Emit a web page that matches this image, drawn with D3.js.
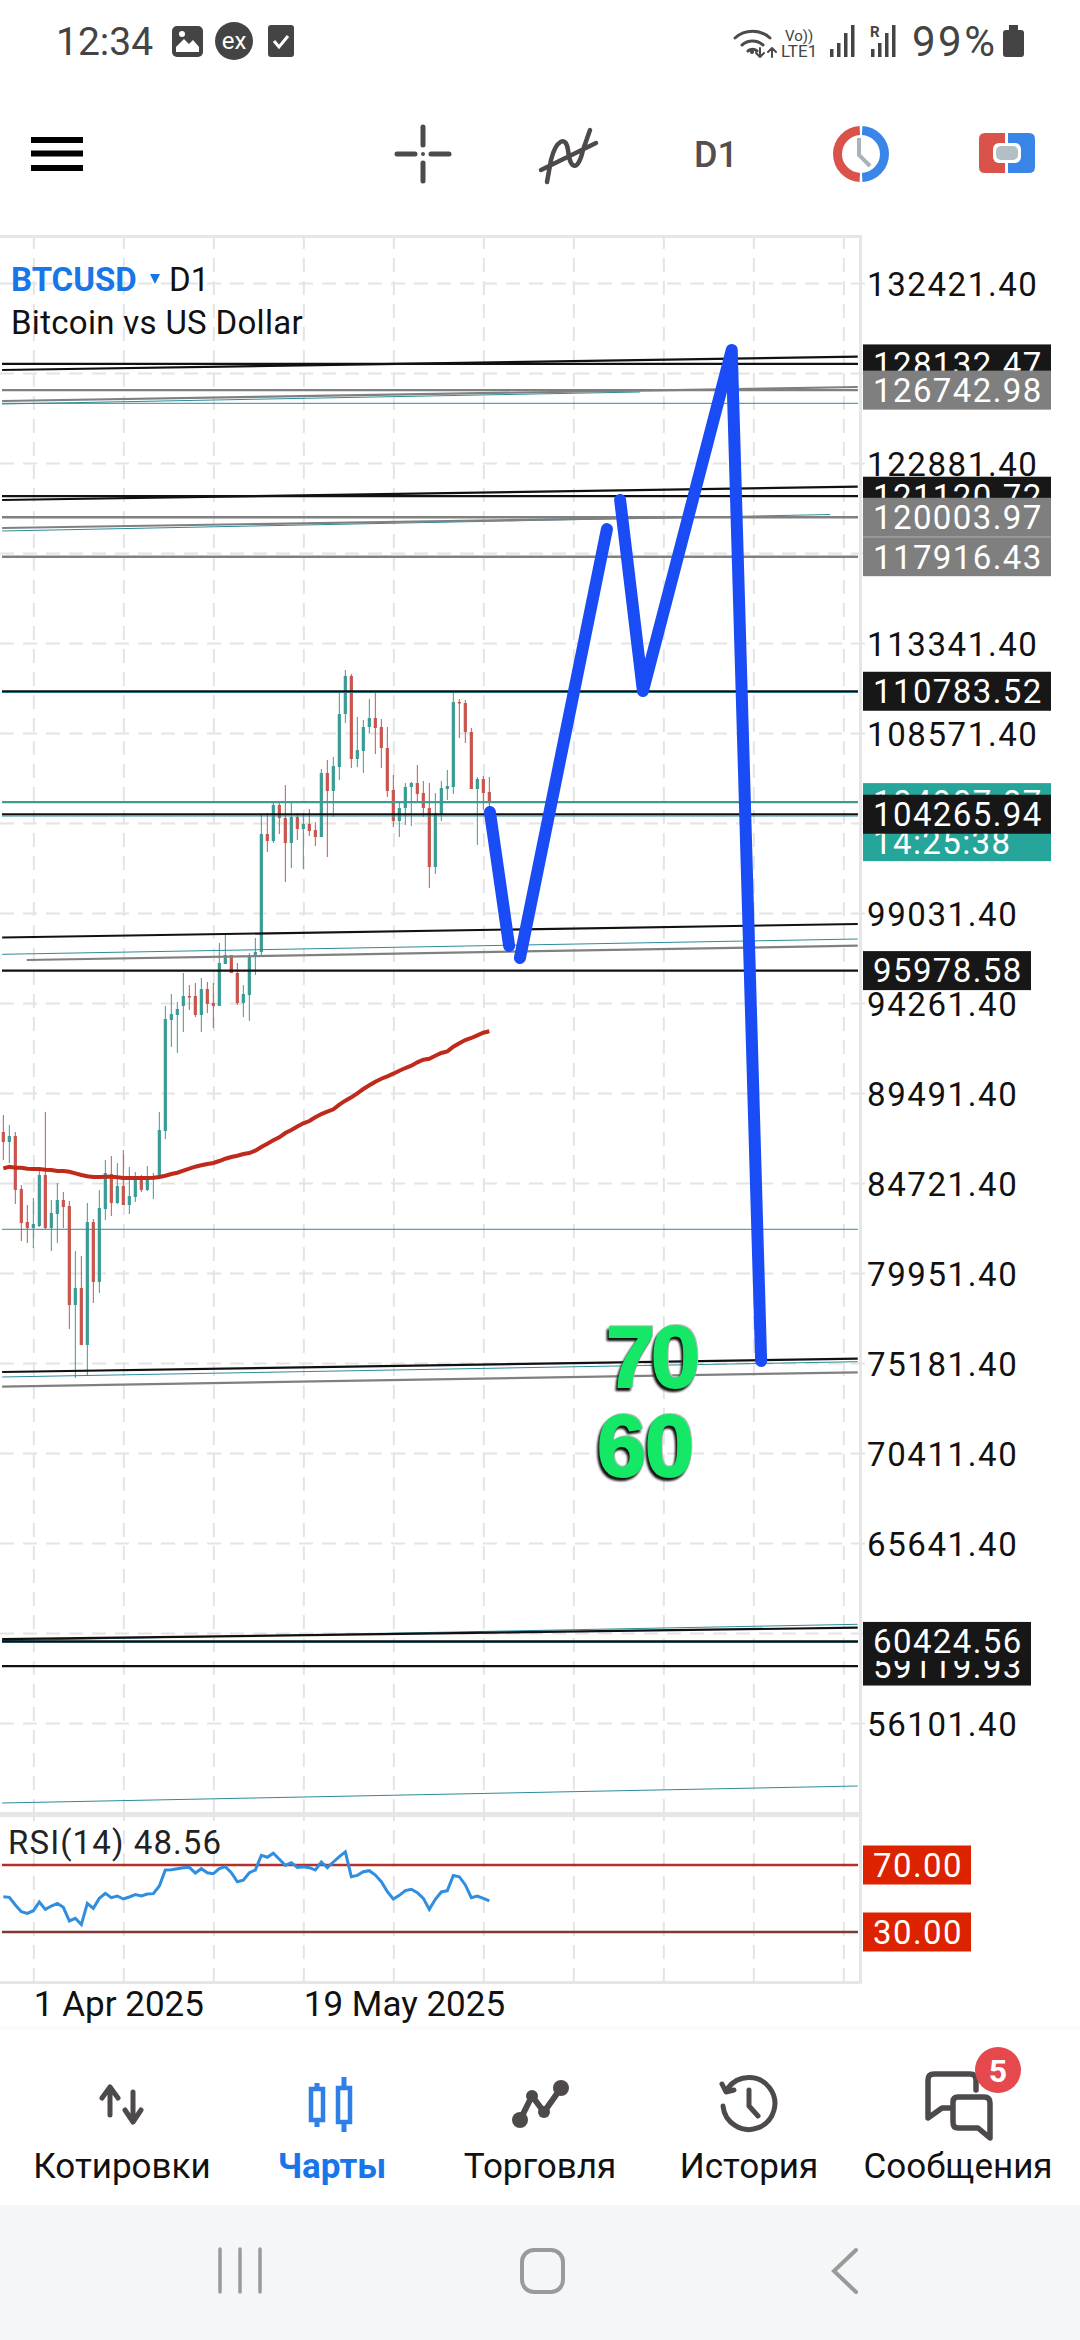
<!DOCTYPE html>
<html>
<head>
<meta charset="utf-8">
<script src="https://cdn.jsdelivr.net/npm/d3@7/dist/d3.min.js"></script>
<style>
html, body { margin: 0; padding: 0; background: #fff; }
svg { display: block; }
text { font-family: Roboto, sans-serif; }
.grid line { stroke: #e4e4e4; stroke-width: 2; stroke-dasharray: 14 9; }
.grid .domain { display: none; }
.price-axis .domain, .time-axis .domain { display: none; }
.price-axis line, .time-axis line { display: none; }
.price-axis text { font-family: Roboto, sans-serif; font-size: 33px; letter-spacing: 1.6px; fill: #111; }
.time-axis text { font-family: Roboto, sans-serif; font-size: 35px; fill: #111; text-anchor: start; }
.tab-label { font-size: 35px; fill: #111; text-anchor: middle; }
.icon-line { fill: none; stroke: #4f4a4a; stroke-linecap: round; stroke-linejoin: round; }
</style>
</head>
<body>
<div id="chart-wrapper"></div>
<script>
// bars, oldest first (daily BTCUSD)
var highs = [88325,87795,87424,84615,83555,83926,85410,88484,83820,84721,84244,
    83767,81117,80852,83661,82813,84350,85940,86152,85781,86470,
    85569,85304,85145,85622,85251,88484,94102,94738,94314,95851,
    95215,95321,95586,95374,95321,97441,97865,96805,96381,95215,
    96911,97706,104225,104331,104861,104861,105815,104861,104331,104331,
    104543,103854,106663,107140,107299,110744,111910,111698,109419,109260,
    110373,110691,109313,108889,106345,104861,105921,105974,106875,106027,
    105921,105391,106027,106610,110744,110373,110320,108836,106239,106292,106239];
var lows = [85940,85781,83608,81647,81541,81276,82389,82283,81117,81541,82336,
    76983,74386,76135,74492,78361,78891,82760,82972,83608,83555,
    83078,83714,84244,84297,83873,85039,87053,91929,91611,92724,
    93890,93519,92724,93731,92936,94102,96328,95851,94155,93519,
    93307,95745,96805,102264,102741,103218,100674,101416,102900,101363,
    103112,102582,103059,101999,104119,106080,109101,106716,106769,106451,
    108571,107458,106716,105179,103589,103059,103695,103642,104861,104119,
    100356,101098,103907,105020,105338,108306,108041,105603,102635,104490,104649];
var opens = [87424,86894,87212,84403,82654,82336,82442,85145,82336,83078,83820,
    83502,78255,79156,76135,82654,79474,83343,85198,83661,84562,
    83555,83979,84933,84350,84933,85039,87477,93360,93625,94102,
    94632,94632,93625,95003,94261,94102,96328,96805,95851,94261,
    94685,96805,96964,103218,102847,104755,104066,102741,104119,103483,
    103748,103430,103059,106451,105497,106769,109578,111592,107193,107617,
    108889,109366,108889,107776,105550,103907,104596,105709,105921,105391,
    104596,101469,104278,105603,105709,110214,110161,108624,105603,106133,105444];
var closes = [86894,87212,84350,82601,82336,82548,85145,82336,83131,83820,83449,
    78255,79156,76135,82654,79474,83396,85251,83661,84562,83555,
    84032,84933,84350,84933,85039,87530,93413,93678,93943,94632,
    94579,93625,95003,94208,94102,96381,96805,95851,94261,94738,
    96752,96964,103218,102847,104755,104066,102741,104119,103483,103748,
    103377,103059,106451,105497,106822,109578,111592,107193,107670,108889,
    109366,108836,107776,105497,103907,104596,105709,105921,105338,104596,
    101469,104331,105656,105762,110214,110161,108624,105603,106133,105391,104914];
var ma_values = [85500,85585,85532,85532,85479,85463,85463,85426,85410,85357,85357,
    85320,85235,85145,85076,85039,85039,85055,85055,85023,84986,
    84986,84986,84986,84986,85002,85039,85108,85198,85267,85373,
    85479,85585,85659,85728,85781,85887,86009,86099,86168,86258,
    86311,86433,86629,86804,86984,87143,87371,87530,87715,87885,
    88007,88203,88378,88500,88627,88871,89083,89263,89475,89703,
    89899,90090,90249,90376,90514,90673,90816,90938,91118,91256,
    91309,91468,91611,91701,91945,92125,92300,92406,92549,92687,92761];
var rsi_values = [51.1,50.7,46.1,42.1,41.1,42.7,47.9,43.5,45.5,47.1,44.7,
    36.6,38.2,34.4,47.1,44.1,50.1,53.1,50.5,51.5,49.7,
    50.9,52.3,51.5,52.7,52.9,57.5,67.0,67.2,67.8,68.4,
    68.6,65.2,67.8,65.4,64.8,67.8,69.0,65.4,60.0,61.0,
    65.4,67.0,75.8,74.6,77.0,73.4,69.8,71.4,68.6,69.0,
    68.4,67.0,71.8,68.4,71.8,75.0,77.8,63.0,63.8,66.0,
    66.6,64.0,60.0,54.1,49.7,51.9,54.7,55.5,53.5,50.1,
    43.5,49.5,53.9,54.7,63.8,63.0,58.1,50.5,51.5,50.1,48.56];

var price_ticks = [132421.40,127651.40,122881.40,118111.40,113341.40,108571.40,103801.40,99031.40,
    94261.40,89491.40,84721.40,79951.40,75181.40,70411.40,65641.40,60871.40,56101.40];
var grid_bars = [5,20,35,50,65,80,95,110,125,140];
var time_tick_bars = [5,50];
var time_tick_labels = ['1 Apr 2025','19 May 2025'];
var rsi_levels = [70,30];

var black_levels = [128132.47,121120.72,110783.52,104265.94,95978.58,60424.56,59119.93];
var grey_levels = [126742.98,120003.97,117916.43];
var thin_levels = [126045,110718,104172,82268,60368];
var bid_price = 104907.87;
var countdown = '14:25:38';

// trend lines: [bar, price, bar, price]
var black_trends = [[-0.2,127810,142.4,128515],[-0.2,120920,142.4,121625],[-0.2,97732,142.4,98448],
    [-0.2,74704,142.4,75409],[-0.2,60542,142.4,61152]];
var grey_trends = [[-0.2,126167,142.4,126909],[-0.2,119436,116.1,120019],[3.9,96540,142.4,97298],
    [-0.2,73925,142.4,74688]];
var thin_trends = [[-0.2,126008,106.1,126644],[-0.2,119277,137.8,120151],[-0.2,96842,142.4,97653],
    [-0.2,74439,142.4,75250],[-0.2,60468,142.4,61332],[-0.2,51861,142.4,52762]];

// hand drawn forecast strokes: bar and price of each point
var stroke_bars = [[81.1,84.3],[86.1,100.6],[102.8,106.6,121.4,126.3]];
var stroke_prices = [[104384,97282],[96646,119383],[120920,110797,128870,75287]];

var axis_labels = [128132.47,126742.98,121120.72,120003.97,117916.43,110783.52,95978.58,59119.93,60424.56];
var grey_label_set = [126742.98,120003.97,117916.43];

var tab_names = ['Котировки','Чарты','Торговля','История','Сообщения'];
var tab_centers = [122,332,540,749,958];

var total_width = 1080;
var total_height = 2340;
var pane_right = 861;
var candle_green = '#3a9c94';
var candle_red = '#c8554e';
var bars = d3.range(highs.length);

var svg = d3.select('#chart-wrapper').append('svg')
    .attr('width', total_width)
    .attr('height', total_height);

svg.append('rect').attr('width', total_width).attr('height', total_height).attr('fill', '#fff');

var scale_x = d3.scaleLinear().domain([0, 143]).range([3.33, 861.33]);
var scale_y = d3.scaleLinear().domain([132421.4, 56101.4]).range([283, 1723]);
var scale_rsi = d3.scaleLinear().domain([70, 30]).range([1865, 1932]);

// gridlines
svg.append('g').attr('class', 'grid')
    .call(d3.axisRight(scale_y).tickValues(price_ticks).tickSize(872).tickFormat(''));
svg.append('g').attr('class', 'grid')
    .attr('transform', 'translate(0,1813)')
    .call(d3.axisTop(scale_x).tickValues(grid_bars).tickSize(1576).tickFormat(''));
svg.append('g').attr('class', 'grid')
    .attr('transform', 'translate(0,1982)')
    .call(d3.axisTop(scale_x).tickValues(grid_bars).tickSize(166).tickFormat(''));

// price axis text goes under the level boxes
svg.append('g').attr('class', 'price-axis')
    .attr('transform', 'translate(867,0)')
    .call(d3.axisRight(scale_y).tickValues(price_ticks).tickSize(0).tickPadding(0)
        .tickFormat(function(d) { return d.toFixed(2); }))
  .selectAll('text')
    .attr('dy', '.38em');

// pane frames
var frame = svg.append('g').attr('fill', '#e6e6e6');
frame.append('rect').attr('x', 0).attr('y', 235).attr('width', pane_right).attr('height', 3);
frame.append('rect').attr('x', 0).attr('y', 1812).attr('width', pane_right).attr('height', 5);
frame.append('rect').attr('x', 0).attr('y', 1981).attr('width', pane_right).attr('height', 3);
frame.append('rect').attr('x', 859).attr('y', 235).attr('width', 3).attr('height', 1749);

var draw_area = svg.append('g');

var draw_level = function(price, color, width) {
    draw_area.append('line')
        .attr('x1', 2).attr('x2', 858)
        .attr('y1', scale_y(price)).attr('y2', scale_y(price))
        .attr('stroke', color).attr('stroke-width', width);
};
var draw_trend = function(t, color, width) {
    draw_area.append('line')
        .attr('x1', scale_x(t[0])).attr('y1', scale_y(t[1]))
        .attr('x2', scale_x(t[2])).attr('y2', scale_y(t[3]))
        .attr('stroke', color).attr('stroke-width', width);
};

// candles
var candles = draw_area.selectAll('g.candle')
    .data(bars)
    .enter()
  .append('g')
    .attr('class', 'candle')
    .attr('fill', function(i) { return closes[i] >= opens[i] ? candle_green : candle_red; })
    .attr('stroke', function(i) { return closes[i] >= opens[i] ? candle_green : candle_red; });
candles.append('line')
    .attr('x1', function(i) { return scale_x(i); })
    .attr('x2', function(i) { return scale_x(i); })
    .attr('y1', function(i) { return scale_y(highs[i]); })
    .attr('y2', function(i) { return scale_y(lows[i]); })
    .attr('stroke-width', 1);
candles.append('rect')
    .attr('stroke', 'none')
    .attr('x', function(i) { return scale_x(i) - 1.6; })
    .attr('width', 3.2)
    .attr('y', function(i) { return scale_y(Math.max(opens[i], closes[i])); })
    .attr('height', function(i) { return Math.max(1.5, scale_y(Math.min(opens[i], closes[i])) - scale_y(Math.max(opens[i], closes[i]))); });

// trend lines and levels over the candles
thin_levels.forEach(function(p) { draw_level(p, '#2c8c9a', 1); });
thin_trends.forEach(function(t) { draw_trend(t, '#2c8c9a', 1); });
grey_trends.forEach(function(t) { draw_trend(t, '#808080', 2.2); });
grey_levels.forEach(function(p) { draw_level(p, '#808080', 2.4); });
draw_level(bid_price, '#3f9a94', 2.2);
black_trends.forEach(function(t) { draw_trend(t, '#111', 2.2); });
black_levels.forEach(function(p) { draw_level(p, '#111', 2.2); });

// 200 moving average
var ma_line = d3.line()
    .x(function(i) { return scale_x(i); })
    .y(function(i) { return scale_y(ma_values[i]); });
draw_area.append('path')
    .attr('d', ma_line(bars))
    .attr('fill', 'none')
    .attr('stroke', '#bf2a1c')
    .attr('stroke-width', 4);

// forecast drawn by hand on the screenshot
var stroke_line = d3.line()
    .x(function(d) { return scale_x(d[0]); })
    .y(function(d) { return scale_y(d[1]); });
stroke_bars.forEach(function(s, k) {
    draw_area.append('path')
        .attr('d', stroke_line(s.map(function(b, j) { return [b, stroke_prices[k][j]]; })))
        .attr('fill', 'none')
        .attr('stroke', '#1a4cf5')
        .attr('stroke-width', 12)
        .attr('stroke-linecap', 'round')
        .attr('stroke-linejoin', 'round');
});

var draw_sticker = function(txt, x, baseline, spacing) {
    svg.append('text')
        .attr('x', x).attr('y', baseline)
        .style('font-family', 'Liberation Sans, Arial, sans-serif')
        .attr('font-weight', 700)
        .attr('font-size', 88)
        .attr('letter-spacing', spacing)
        .attr('fill', '#14e866')
        .attr('stroke', '#14e866')
        .attr('stroke-width', 2)
        .style('filter', 'drop-shadow(-2px 3px 1px #111) drop-shadow(1px -1px 0.5px #bbb)')
        .text(txt);
};
draw_sticker('70', 606, 1387, -4);
draw_sticker('60', 597, 1476, -1);

// level boxes on the price axis
var draw_axis_box = function(price, fill, txt) {
    var box_width = txt.length * 20 + 8;
    var y = scale_y(price);
    svg.append('rect')
        .attr('x', 863).attr('y', y - 19.5)
        .attr('width', box_width).attr('height', 39)
        .attr('fill', fill);
    svg.append('text')
        .attr('x', 873).attr('y', y)
        .attr('dy', '.36em')
        .attr('font-size', 33)
        .attr('letter-spacing', 1.4)
        .attr('fill', '#fff')
        .text(txt);
};

// bid label with countdown, the black level box sits over it
svg.append('rect')
    .attr('x', 863).attr('y', scale_y(bid_price) - 19)
    .attr('width', 188).attr('height', 78)
    .attr('fill', '#26a69a');
svg.append('text')
    .attr('x', 873).attr('y', scale_y(bid_price)).attr('dy', '.36em')
    .attr('font-size', 33).attr('letter-spacing', 1.4).attr('fill', '#fff')
    .text(bid_price.toFixed(2));
svg.append('text')
    .attr('x', 873).attr('y', scale_y(bid_price) + 40).attr('dy', '.36em')
    .attr('font-size', 33).attr('letter-spacing', 1.4).attr('fill', '#fff')
    .text(countdown);
draw_axis_box(104265.94, '#171717', (104265.94).toFixed(2));
axis_labels.forEach(function(p) {
    draw_axis_box(p, grey_label_set.indexOf(p) > -1 ? '#7f7f7f' : '#171717', p.toFixed(2));
});

// symbol header
svg.append('text').attr('x', 11).attr('y', 291).attr('font-size', 33).attr('font-weight', 700)
    .attr('fill', '#1976e8').text('BTCUSD');
svg.append('path').attr('d', 'M150,274 L160,274 L155,284 Z').attr('fill', '#1976e8');
svg.append('text').attr('x', 169).attr('y', 291).attr('font-size', 33).attr('fill', '#111').text('D1');
svg.append('text').attr('x', 11).attr('y', 334).attr('font-size', 33).attr('letter-spacing', 0.3)
    .attr('fill', '#111').text('Bitcoin vs US Dollar');

// RSI pane
rsi_levels.forEach(function(level) {
    svg.append('line')
        .attr('x1', 2).attr('x2', 858)
        .attr('y1', scale_rsi(level)).attr('y2', scale_rsi(level))
        .attr('stroke', level == 70 ? '#b5302a' : '#7e3b36')
        .attr('stroke-width', 2.4);
    svg.append('rect')
        .attr('x', 863).attr('y', scale_rsi(level) - 19.5)
        .attr('width', 108).attr('height', 39)
        .attr('fill', '#dd2200');
    svg.append('text')
        .attr('x', 873).attr('y', scale_rsi(level)).attr('dy', '.36em')
        .attr('font-size', 33).attr('letter-spacing', 1.4).attr('fill', '#fff')
        .text(level.toFixed(2));
});
var rsi_line = d3.line()
    .x(function(i) { return scale_x(i); })
    .y(function(i) { return scale_rsi(rsi_values[i]); });
svg.append('path')
    .attr('d', rsi_line(bars))
    .attr('fill', 'none')
    .attr('stroke', '#2f8ee0')
    .attr('stroke-width', 3);
svg.append('text').attr('x', 8).attr('y', 1854).attr('font-size', 33).attr('letter-spacing', 1.1)
    .attr('fill', '#222').text('RSI(14) ' + rsi_values[rsi_values.length - 1].toFixed(2));

// time axis
svg.append('g').attr('class', 'time-axis')
    .attr('transform', 'translate(0,1984)')
    .call(d3.axisBottom(scale_x).tickValues(time_tick_bars).tickSize(0).tickPadding(7)
        .tickFormat(function(d) { return time_tick_labels[time_tick_bars.indexOf(d)]; }));

// status bar
var dark = '#444';
svg.append('text').attr('x', 56).attr('y', 55).attr('font-size', 39).attr('fill', dark).text('12:34');
svg.append('rect').attr('x', 172).attr('y', 26).attr('width', 31).attr('height', 31).attr('rx', 5).attr('fill', dark);
svg.append('path').attr('d', 'M176,52 L176,47 L184,39 L189,44 L193,40 L199,47 L199,52 Z').attr('fill', '#fff');
svg.append('circle').attr('cx', 182).attr('cy', 34).attr('r', 3).attr('fill', '#fff');
svg.append('circle').attr('cx', 234).attr('cy', 41).attr('r', 19).attr('fill', dark);
svg.append('text').attr('x', 234).attr('y', 49).attr('text-anchor', 'middle').attr('font-size', 24).attr('fill', '#fff').text('ex');
svg.append('rect').attr('x', 268).attr('y', 25).attr('width', 26).attr('height', 32).attr('rx', 3).attr('fill', dark);
svg.append('path').attr('d', 'M274,41 L279,47 L288,36').attr('fill', 'none').attr('stroke', '#fff').attr('stroke-width', 3);

svg.append('path').attr('class', 'icon-line').attr('stroke-width', 3)
    .attr('d', 'M735,38 A26,26 0 0 1 770,38 M742,45 A16,16 0 0 1 763,45 M748,51 A7,7 0 0 1 757,51');
svg.append('circle').attr('cx', 752).attr('cy', 52).attr('r', 2).attr('fill', dark);
svg.append('path').attr('class', 'icon-line').attr('stroke-width', 2)
    .attr('d', 'M760,48 L760,57 M756,53 L760,57 L764,53 M772,57 L772,48 M768,52 L772,48 L776,52');
svg.append('text').attr('x', 785).attr('y', 41).attr('font-size', 15).attr('fill', dark).text('Vo))');
svg.append('text').attr('x', 781).attr('y', 57).attr('font-size', 17).attr('fill', dark).text('LTE1');
var signal_bars = function(x0) {
    [8, 14, 24, 32].forEach(function(h, k) {
        svg.append('rect').attr('x', x0 + k * 7).attr('y', 57 - h).attr('width', 3.5).attr('height', h).attr('fill', dark);
    });
};
signal_bars(830);
signal_bars(871);
svg.append('text').attr('x', 870).attr('y', 37).attr('font-size', 15).attr('font-weight', 700).attr('fill', dark).text('R');
svg.append('text').attr('x', 912).attr('y', 56).attr('font-size', 42).attr('letter-spacing', 2.5).attr('fill', dark).text('99%');
svg.append('rect').attr('x', 1003).attr('y', 30).attr('width', 21).attr('height', 27).attr('rx', 3).attr('fill', dark);
svg.append('rect').attr('x', 1009).attr('y', 25).attr('width', 9).attr('height', 6).attr('fill', dark);

// top toolbar
[137, 150.5, 165].forEach(function(y) {
    svg.append('rect').attr('x', 31).attr('y', y).attr('width', 52).attr('height', 6).attr('fill', '#000');
});
var tool = '#544e4e';
svg.append('path').attr('class', 'icon-line').attr('stroke-width', 5)
    .attr('d', 'M423,127 L423,145 M423,163 L423,181 M397,154 L415,154 M431,154 L449,154');
svg.append('circle').attr('cx', 423).attr('cy', 154).attr('r', 2).attr('fill', tool);
svg.append('path').attr('class', 'icon-line').attr('stroke-width', 4.5)
    .attr('d', 'M541,170 L596,143 M547,182 L551,160 C556,140 566,135 568,150 C570,170 578,172 583,150 L590,130');
svg.append('text').attr('x', 716).attr('y', 167).attr('text-anchor', 'middle').attr('font-size', 36)
    .attr('font-weight', 500).attr('fill', tool).text('D1');

// clock icon: two arcs
var ring = d3.arc().innerRadius(19).outerRadius(28);
svg.append('path').attr('transform', 'translate(861,154)').attr('fill', '#3a86e8')
    .attr('d', ring({startAngle: 0.05, endAngle: Math.PI - 0.05}));
svg.append('path').attr('transform', 'translate(861,154)').attr('fill', '#d9534a')
    .attr('d', ring({startAngle: Math.PI + 0.05, endAngle: 2 * Math.PI - 0.05}));
svg.append('path').attr('d', 'M859,138 L859,155 L870,166').attr('fill', 'none').attr('stroke', '#a9b4b8').attr('stroke-width', 4);

// account icon
svg.append('path').attr('fill', '#d9534a').attr('d', 'M1005,133 L985,133 Q979,133 979,139 L979,167 Q979,173 985,173 L1005,173 Z');
svg.append('path').attr('fill', '#3a86e8').attr('d', 'M1008,133 L1029,133 Q1035,133 1035,139 L1035,167 Q1035,173 1029,173 L1008,173 Z');
svg.append('rect').attr('x', 993).attr('y', 143).attr('width', 28).attr('height', 20).attr('rx', 6).attr('fill', '#fff');
svg.append('rect').attr('x', 996).attr('y', 146).attr('width', 22).attr('height', 14).attr('rx', 5).attr('fill', '#b4bfc4');

// bottom tabs
svg.append('rect').attr('x', 0).attr('y', 2030).attr('width', total_width).attr('height', 175).attr('fill', '#fff');
svg.append('rect').attr('x', 0).attr('y', 2026).attr('width', total_width).attr('height', 4).attr('fill', '#fafafa');
svg.selectAll('text.tab-label')
    .data(tab_names)
    .enter()
  .append('text')
    .attr('class', 'tab-label')
    .attr('x', function(d, i) { return tab_centers[i]; })
    .attr('y', 2178)
    .attr('font-weight', function(d, i) { return i == 1 ? 700 : 400; })
    .style('fill', function(d, i) { return i == 1 ? '#1976e8' : '#111'; })
    .text(function(d) { return d; });

svg.append('path').attr('class', 'icon-line').attr('stroke-width', 5)
    .attr('d', 'M110,2088 L110,2115 M102,2098 L110,2087 L118,2098 M133,2092 L133,2120 M125,2110 L133,2122 L141,2110');

[[317,2089,2120,2083,2127],[344,2088,2122,2077,2132]].forEach(function(c) {
    svg.append('line').attr('x1', c[0]).attr('x2', c[0]).attr('y1', c[3]).attr('y2', c[4])
        .attr('stroke', '#2f7fe6').attr('stroke-width', 5);
    svg.append('rect').attr('x', c[0] - 6).attr('y', c[1]).attr('width', 12).attr('height', c[2] - c[1])
        .attr('fill', '#fff').attr('stroke', '#2f7fe6').attr('stroke-width', 4.5);
});

svg.append('path').attr('class', 'icon-line').attr('stroke-width', 6)
    .attr('d', 'M520,2120 L532,2096 L544,2112 L561,2088');
[[520,2120,8],[532,2096,6],[544,2112,6],[561,2088,8]].forEach(function(c) {
    svg.append('circle').attr('cx', c[0]).attr('cy', c[1]).attr('r', c[2]).attr('fill', '#4f4a4a');
});

svg.append('path').attr('class', 'icon-line').attr('stroke-width', 5)
    .attr('d', 'M728,2088 A26,26 0 1 1 723,2106 M722,2084 L726,2092 L734,2090 M749,2090 L749,2106 L758,2116');

svg.append('path').attr('class', 'icon-line').attr('stroke-width', 5.5)
    .attr('d', 'M976,2090 L976,2080 Q976,2074 970,2074 L934,2074 Q928,2074 928,2080 L928,2118 L942,2108 L952,2108');
svg.append('path').attr('class', 'icon-line').attr('stroke-width', 5.5)
    .attr('d', 'M958,2097 L984,2097 Q990,2097 990,2103 L990,2138 L978,2128 L958,2128 Q953,2128 953,2122 L953,2102 Q953,2097 958,2097 Z');
svg.append('circle').attr('cx', 998).attr('cy', 2070).attr('r', 23).attr('fill', '#e5484d');
svg.append('text').attr('x', 998).attr('y', 2082).attr('text-anchor', 'middle').attr('font-size', 32)
    .attr('font-weight', 700).attr('fill', '#fff').text('5');

// android nav bar
svg.append('rect').attr('x', 0).attr('y', 2205).attr('width', total_width).attr('height', 135).attr('fill', '#f5f6f8');
[220, 240, 260].forEach(function(x) {
    svg.append('line').attr('x1', x).attr('x2', x).attr('y1', 2249).attr('y2', 2292)
        .attr('stroke', '#9a9a9a').attr('stroke-width', 3.5).attr('stroke-linecap', 'round');
});
svg.append('rect').attr('x', 522).attr('y', 2250).attr('width', 41).attr('height', 42).attr('rx', 12)
    .attr('fill', 'none').attr('stroke', '#9a9a9a').attr('stroke-width', 4);
svg.append('path').attr('d', 'M856,2250 L834,2271 L856,2292').attr('fill', 'none')
    .attr('stroke', '#9a9a9a').attr('stroke-width', 4).attr('stroke-linecap', 'round');
</script>
</body>
</html>
